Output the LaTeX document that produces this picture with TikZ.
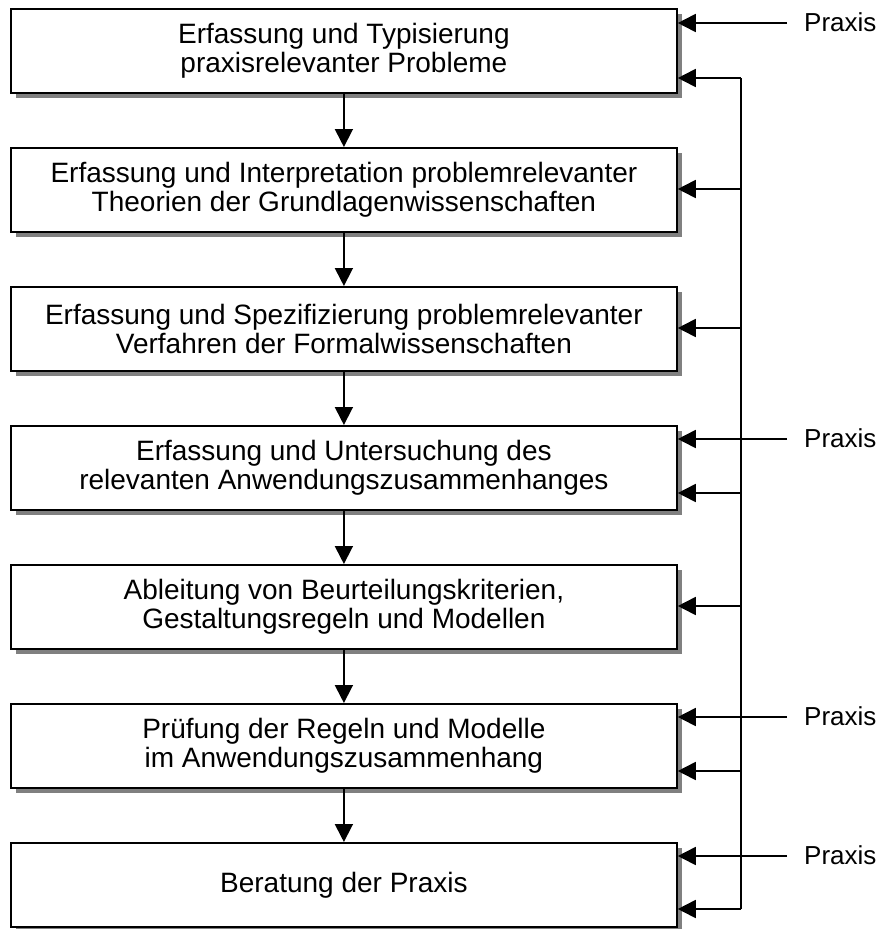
\documentclass[tikz,border=0pt]{standalone}
\usepackage{fontspec}
\setmainfont{Liberation Sans}
\usetikzlibrary{arrows.meta,shadows}
\definecolor{shadowgray}{HTML}{808080}
\tikzset{
  stepbox/.style={draw=black, line width=1.8pt, fill=white, anchor=north west,
    minimum width=666pt, minimum height=84pt, inner sep=0pt, align=center,
    font=\fontsize{28pt}{28.5pt}\selectfont,
    drop shadow={shadow xshift=5pt, shadow yshift=-5pt, fill=shadowgray, opacity=1}},
  conn/.style={line width=1.8pt, -{Triangle[length=18pt,width=18pt]}},
  plain/.style={line width=1.8pt},
  praxis/.style={anchor=west, inner sep=0pt, font=\fontsize{26pt}{28pt}\selectfont}
}
\begin{document}
\begin{tikzpicture}[x=1pt,y=-1pt]
\useasboundingbox (0,0) rectangle (883,929);
% boxes
\node[stepbox] (b1) at (10,8) {Erfassung und Typisierung\\praxisrelevanter Probleme};
\node[stepbox] (b2) at (10,147) {Erfassung und Interpretation problemrelevanter\\Theorien der Grundlagenwissenschaften};
\node[stepbox] (b3) at (10,286) {Erfassung und Spezifizierung problemrelevanter\\Verfahren der Formalwissenschaften};
\node[stepbox] (b4) at (10,425) {Erfassung und Untersuchung des\\relevanten Anwendungszusammenhanges};
\node[stepbox] (b5) at (10,564) {Ableitung von Beurteilungskriterien,\\Gestaltungsregeln und Modellen};
\node[stepbox] (b6) at (10,703) {Prüfung der Regeln und Modelle\\im Anwendungszusammenhang};
\node[stepbox] (b7) at (10,842) {Beratung der Praxis};
% downward arrows
\foreach \a/\b in {b1/b2,b2/b3,b3/b4,b4/b5,b5/b6,b6/b7}
  \draw[conn] (\a.south) -- (\b.north);
% feedback coordinates
\coordinate (f1) at (741,78);
\coordinate (f2) at (741,189);
\coordinate (f3) at (741,328);
\coordinate (f4) at (741,493);
\coordinate (f5) at (741,606);
\coordinate (f6) at (741,771);
\coordinate (f7) at (741,909);
\draw[plain] (f1) -- (f7);
\draw[conn] (f1) -- (b1.east |- f1);
\draw[conn] (f2) -- (b2.east |- f2);
\draw[conn] (f3) -- (b3.east |- f3);
\draw[conn] (f4) -- (b4.east |- f4);
\draw[conn] (f5) -- (b5.east |- f5);
\draw[conn] (f6) -- (b6.east |- f6);
\draw[conn] (f7) -- (b7.east |- f7);
% Praxis inputs
\coordinate (p1) at (787,23);
\coordinate (p4) at (787,439);
\coordinate (p6) at (787,717);
\coordinate (p7) at (787,856);
\node[praxis] (t1) at (804,22) {Praxis};
\node[praxis] (t4) at (804,438) {Praxis};
\node[praxis] (t6) at (804,716) {Praxis};
\node[praxis] (t7) at (804,855) {Praxis};
\draw[conn] (p1) -- (b1.east |- p1);
\draw[conn] (p4) -- (b4.east |- p4);
\draw[conn] (p6) -- (b6.east |- p6);
\draw[conn] (p7) -- (b7.east |- p7);
\end{tikzpicture}
\end{document}
